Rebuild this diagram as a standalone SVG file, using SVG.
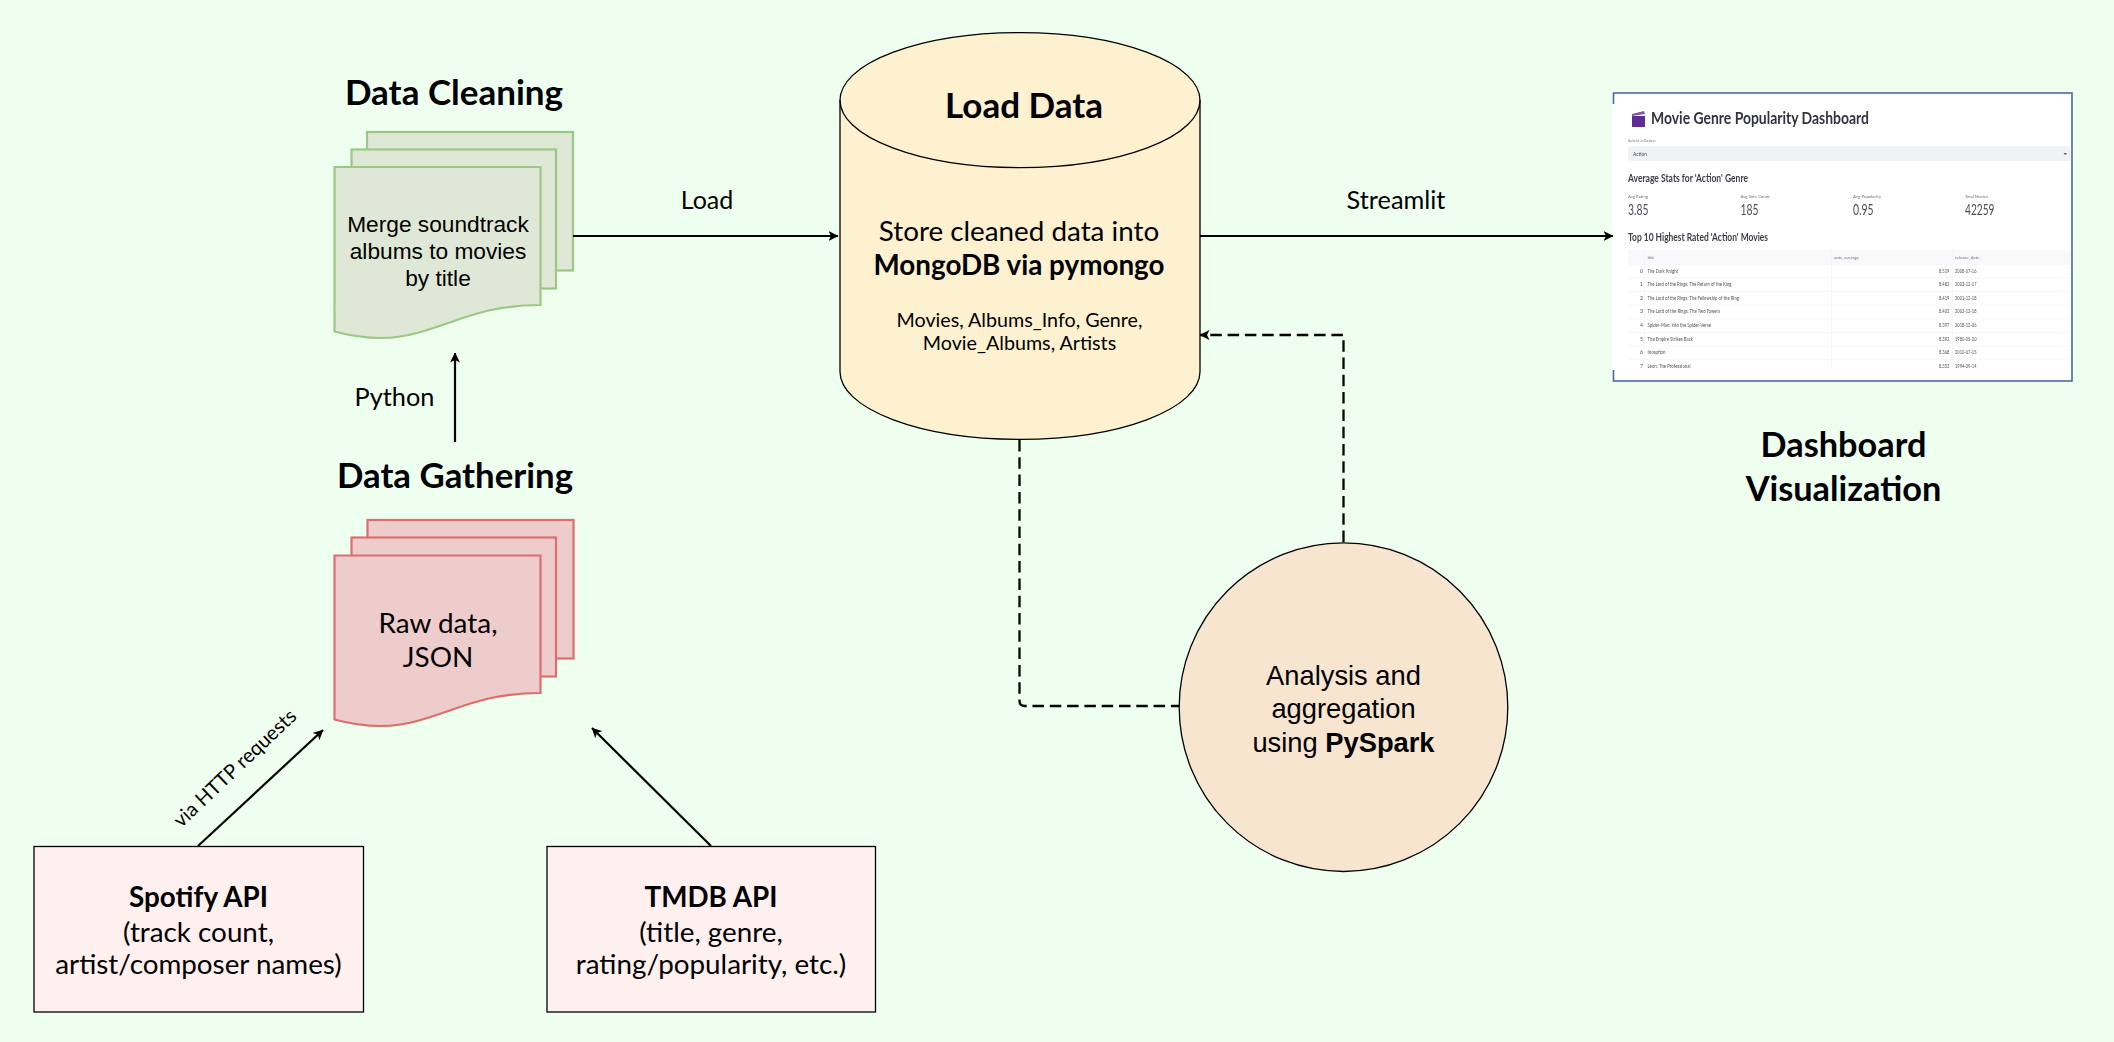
<svg xmlns="http://www.w3.org/2000/svg" width="2114" height="1042" viewBox="0 0 2114 1042">
<defs>
<style>
.l{font-family:Lato,"Liberation Sans",sans-serif;fill:#000;text-anchor:middle}
.h{font-family:"Liberation Sans",Arial,sans-serif;fill:#000;text-anchor:middle}
.b{font-weight:700}
.gd{fill:#dfe8d6;stroke:#9ac984;stroke-width:2.2}
.rd{fill:#eecccc;stroke:#dc6e6e;stroke-width:2.2}
.n{stroke:#000;stroke-width:1.3}
.c{fill:none;stroke:#000;stroke-width:2.2}
.d{fill:none;stroke:#000;stroke-width:2.3;stroke-dasharray:11.5 5.8}
.s{font-family:Lato,"Noto Sans",sans-serif}
.t{font-size:5.2px;fill:#50525c}
.k{font-size:4.6px;fill:#6f7079}
.m{font-size:14.5px;fill:#4b4d58}
.q{font-size:10.5px;font-weight:700;fill:#3c3e4a}
.g{stroke:#f3f4f6;stroke-width:.7;fill:none}
</style>
<marker id="a" viewBox="0 0 10 10" refX="9.5" refY="5" markerWidth="10" markerHeight="10" markerUnits="userSpaceOnUse" orient="auto"><path d="M0 0L10 5L0 10L2.5 5Z" fill="#000"/></marker>
<filter id="blur" x="-2%" y="-2%" width="104%" height="104%"><feGaussianBlur stdDeviation="0.5"/></filter>
</defs>
<rect width="2114" height="1042" fill="#efffef"/>

<g id="data-cleaning">
<text class="l b" x="454" y="105" font-size="35">Data Cleaning</text>
<rect class="gd" x="367" y="132" width="206" height="138.5"/>
<rect class="gd" x="351.5" y="149.5" width="204.5" height="139"/>
<path class="gd" d="M334.5 167H540.5V305C484 305 460 321 417 333C389 341 362 339 334.5 331.5Z"/>
<text class="h" font-size="22.7"><tspan x="438" y="231.5">Merge soundtrack</tspan><tspan x="438" y="259">albums to movies</tspan><tspan x="438" y="285.5">by title</tspan></text>
</g>

<g id="data-gathering">
<text class="l b" x="455" y="488" font-size="34.8">Data Gathering</text>
<rect class="rd" x="367.5" y="520" width="206" height="138.5"/>
<rect class="rd" x="351.5" y="537.5" width="204.5" height="139"/>
<path class="rd" d="M334.5 555.5H540.5V693C484 693 460 709 417 721C389 729 362 727 334.5 719.5Z"/>
<text class="l" font-size="27.9"><tspan x="438" y="633">Raw data,</tspan><tspan x="438" y="666.5">JSON</tspan></text>
</g>

<g id="spotify-api">
<rect class="n" x="34" y="846.5" width="329.5" height="165.5" fill="#fff0f0"/>
<text class="l" font-size="27.8"><tspan class="b" x="198.5" y="907">Spotify API</tspan><tspan x="198.5" y="941.5">(track count,</tspan><tspan x="198.5" y="973.5">artist/composer names)</tspan></text>
</g>

<g id="tmdb-api">
<rect class="n" x="547" y="846.5" width="328.5" height="165.5" fill="#fff0f0"/>
<text class="l" font-size="27.8"><tspan class="b" x="711" y="907">TMDB API</tspan><tspan x="711" y="941.5">(title, genre,</tspan><tspan x="711" y="973.5">rating/popularity, etc.)</tspan></text>
</g>

<g id="load-data">
<path class="n" fill="#fdf1d0" d="M840 100.2A180 67.5 0 0 1 1200 100.2V371.8A180 67.5 0 0 1 840 371.8Z"/>
<path class="n" fill="none" d="M840 100.2A180 67.5 0 0 0 1200 100.2"/>
<text class="l b" x="1024" y="118" font-size="35">Load Data</text>
<text class="l" font-size="27.8"><tspan x="1019" y="241">Store cleaned data into</tspan><tspan class="b" x="1019" y="274.5">MongoDB via pymongo</tspan></text>
<text class="l" font-size="19.7"><tspan x="1019.5" y="326.5">Movies, Albums_Info, Genre,</tspan><tspan x="1019.5" y="349.5">Movie_Albums, Artists</tspan></text>
</g>

<g id="analysis">
<circle class="n" cx="1343.5" cy="707.2" r="164.3" fill="#f8e5d0"/>
<text class="h" font-size="27.3"><tspan x="1343.5" y="684.5">Analysis and</tspan><tspan x="1343.5" y="718">aggregation</tspan><tspan x="1343.5" y="751.5">using <tspan class="b">PySpark</tspan></tspan></text>
</g>

<g id="dashboard">
<rect x="1613.5" y="93" width="458.5" height="288" fill="#fff" stroke="#4a6a9c" stroke-width="1.6"/>
<path d="M1613.5 104V370" stroke="#fff" stroke-width="3" fill="none"/>
<g filter="url(#blur)" class="s">
<path d="M1632 116H1645V127H1632Z" fill="#5c2d91"/><path d="M1632 114L1644 111L1645 114L1632 116Z" fill="#7c5aa8"/>
<text x="1651" y="124" font-size="17" font-weight="700" fill="#31333f" textLength="218" lengthAdjust="spacingAndGlyphs">Movie Genre Popularity Dashboard</text>
<text class="k" x="1628" y="141.5" textLength="28" lengthAdjust="spacingAndGlyphs">Select a Genre:</text>
<rect x="1628" y="146" width="443" height="15" rx="2" fill="#f0f2f6"/>
<text class="t" x="1633" y="155.5" textLength="14" lengthAdjust="spacingAndGlyphs">Action</text>
<path d="M2063.5 153H2067L2065.2 155Z" fill="#555"/>
<text class="q" x="1628" y="182" textLength="120" lengthAdjust="spacingAndGlyphs">Average Stats for 'Action' Genre</text>
<text class="k" x="1628" y="198" textLength="20" lengthAdjust="spacingAndGlyphs">Avg Rating</text>
<text class="k" x="1740.5" y="198" textLength="29" lengthAdjust="spacingAndGlyphs">Avg Vote Count</text>
<text class="k" x="1853" y="198" textLength="28" lengthAdjust="spacingAndGlyphs">Avg Popularity</text>
<text class="k" x="1965" y="198" textLength="23" lengthAdjust="spacingAndGlyphs">Total Movies</text>
<text class="m" x="1628" y="214.5" textLength="20.5" lengthAdjust="spacingAndGlyphs">3.85</text>
<text class="m" x="1740.5" y="214.5" textLength="18" lengthAdjust="spacingAndGlyphs">185</text>
<text class="m" x="1853" y="214.5" textLength="20.5" lengthAdjust="spacingAndGlyphs">0.95</text>
<text class="m" x="1965" y="214.5" textLength="29.5" lengthAdjust="spacingAndGlyphs">42259</text>
<text class="q" x="1628" y="241" textLength="140" lengthAdjust="spacingAndGlyphs">Top 10 Highest Rated 'Action' Movies</text>
<rect x="1628" y="250" width="443" height="14" fill="#f8f9fb"/>
<path class="g" d="M1628 264.5H2071M1628 278H2071M1628 291.5H2071M1628 305H2071M1628 319H2071M1628 332.5H2071M1628 346H2071M1628 359.5H2071M1644.5 250V370M1831.5 250V370M1952.5 250V370"/>
<text class="k" x="1647.5" y="259" textLength="7" lengthAdjust="spacingAndGlyphs">title</text>
<text class="k" x="1834" y="259" textLength="25" lengthAdjust="spacingAndGlyphs">vote_average</text>
<text class="k" x="1955" y="259" textLength="24.5" lengthAdjust="spacingAndGlyphs">release_date</text>
<g class="t">
<text x="1640" y="272.5">0</text><text x="1647.5" y="272.5" textLength="30.5" lengthAdjust="spacingAndGlyphs">The Dark Knight</text><text x="1939" y="272.5" textLength="10.5" lengthAdjust="spacingAndGlyphs">8.519</text><text x="1955" y="272.5" textLength="21.5" lengthAdjust="spacingAndGlyphs">2008-07-16</text>
<text x="1640" y="286">1</text><text x="1647.5" y="286" textLength="84" lengthAdjust="spacingAndGlyphs">The Lord of the Rings: The Return of the King</text><text x="1939" y="286" textLength="10.5" lengthAdjust="spacingAndGlyphs">8.482</text><text x="1955" y="286" textLength="21.5" lengthAdjust="spacingAndGlyphs">2003-12-17</text>
<text x="1640" y="299.5">2</text><text x="1647.5" y="299.5" textLength="91.5" lengthAdjust="spacingAndGlyphs">The Lord of the Rings: The Fellowship of the Ring</text><text x="1939" y="299.5" textLength="10.5" lengthAdjust="spacingAndGlyphs">8.419</text><text x="1955" y="299.5" textLength="21.5" lengthAdjust="spacingAndGlyphs">2001-12-18</text>
<text x="1640" y="313">3</text><text x="1647.5" y="313" textLength="72.5" lengthAdjust="spacingAndGlyphs">The Lord of the Rings: The Two Towers</text><text x="1939" y="313" textLength="10.5" lengthAdjust="spacingAndGlyphs">8.403</text><text x="1955" y="313" textLength="21.5" lengthAdjust="spacingAndGlyphs">2002-12-18</text>
<text x="1640" y="327">4</text><text x="1647.5" y="327" textLength="63.5" lengthAdjust="spacingAndGlyphs">Spider-Man: Into the Spider-Verse</text><text x="1939" y="327" textLength="10.5" lengthAdjust="spacingAndGlyphs">8.397</text><text x="1955" y="327" textLength="21.5" lengthAdjust="spacingAndGlyphs">2018-12-06</text>
<text x="1640" y="340.5">5</text><text x="1647.5" y="340.5" textLength="45.5" lengthAdjust="spacingAndGlyphs">The Empire Strikes Back</text><text x="1939" y="340.5" textLength="10.5" lengthAdjust="spacingAndGlyphs">8.392</text><text x="1955" y="340.5" textLength="21.5" lengthAdjust="spacingAndGlyphs">1980-05-20</text>
<text x="1640" y="354">6</text><text x="1647.5" y="354" textLength="18" lengthAdjust="spacingAndGlyphs">Inception</text><text x="1939" y="354" textLength="10.5" lengthAdjust="spacingAndGlyphs">8.368</text><text x="1955" y="354" textLength="21.5" lengthAdjust="spacingAndGlyphs">2010-07-15</text>
<text x="1640" y="367.5">7</text><text x="1647.5" y="367.5" textLength="43" lengthAdjust="spacingAndGlyphs">Léon: The Professional</text><text x="1939" y="367.5" textLength="10.5" lengthAdjust="spacingAndGlyphs">8.352</text><text x="1955" y="367.5" textLength="21.5" lengthAdjust="spacingAndGlyphs">1994-09-14</text>
</g>
</g>
<text class="l b" font-size="34.3"><tspan x="1843.5" y="457">Dashboard</tspan><tspan x="1843.5" y="500.5">Visualization</tspan></text>
</g>

<g id="connectors">
<path class="c" marker-end="url(#a)" d="M573 236H838"/>
<path class="c" marker-end="url(#a)" d="M1200 236H1613"/>
<path class="c" marker-end="url(#a)" d="M455 442V353"/>
<path class="c" marker-end="url(#a)" d="M198 846L323 730"/>
<path class="c" marker-end="url(#a)" d="M711 846L592 728"/>
<path class="d" d="M1019.5 440V701Q1019.5 706 1025 706H1179"/>
<path class="d" marker-end="url(#a)" d="M1343.5 542V335H1200"/>
<text class="l" x="707" y="208.5" font-size="25">Load</text>
<text class="l" x="1396" y="208.5" font-size="25.3">Streamlit</text>
<text class="l" x="394.5" y="406" font-size="25.3">Python</text>
<text class="l" font-size="20" transform="translate(239.5 773) rotate(-43.5)">via HTTP requests</text>
</g>
</svg>
